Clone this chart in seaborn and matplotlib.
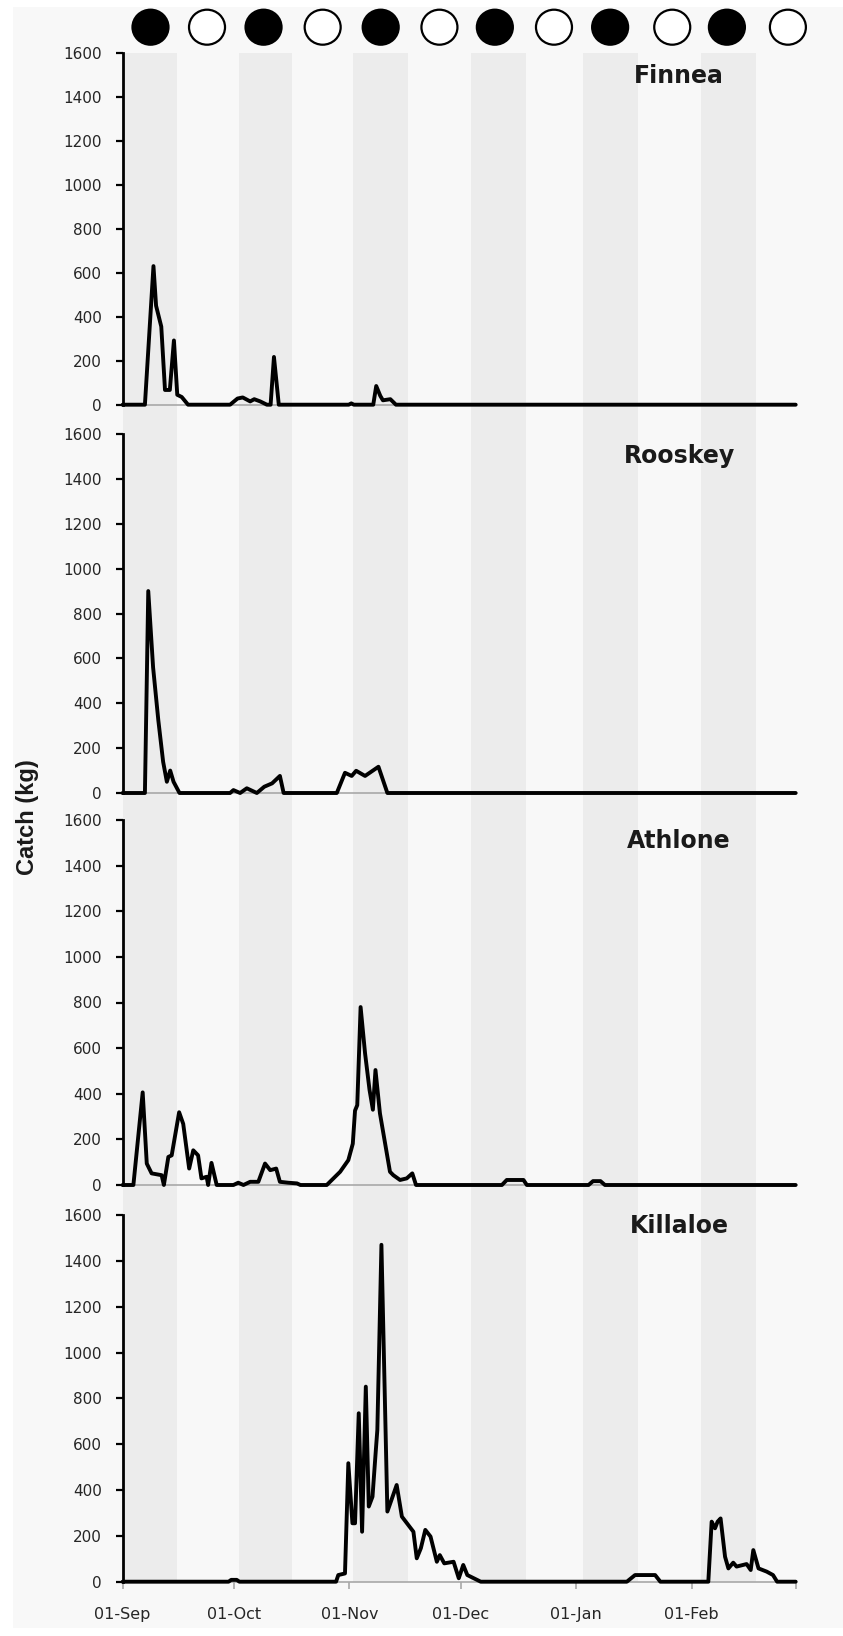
import numpy as np
import pandas as pd
import matplotlib
matplotlib.use("Agg")
import matplotlib.pyplot as plt
import matplotlib.dates as mdates
from matplotlib.patches import Ellipse, Rectangle
import seaborn as sns

# ---------------- data (day offset from 01-Sep, catch in kg) ----------------
START = pd.Timestamp("2013-09-01")
END = pd.Timestamp("2014-03-01")

stations = ["Finnea", "Rooskey", "Athlone", "Killaloe"]

finnea_day = [0, 6.0, 8.3, 9.0, 10.4, 11.4, 12.7, 13.8, 14.7, 15.9, 17.6, 28.9, 30.9, 32.3,
              34.3, 35.4, 37.0, 38.8, 39.8, 40.7, 42.0, 60.8, 61.5, 62.2, 67.4, 68.2, 69.3,
              70.0, 72.0, 73.5, 181]
finnea_kg = [0, 0, 630, 450, 355, 67, 67, 292, 45, 35, 0, 0, 28, 33,
             15, 25, 15, 0, 0, 217, 0, 0, 6, 0, 0, 85, 40,
             20, 25, 0, 0]

rooskey_day = [0, 6.0, 6.9, 8.2, 9.6, 10.9, 11.9, 12.8, 13.7, 15.3, 28.9, 29.8, 31.6, 33.4,
               36.1, 38.1, 40.2, 42.3, 43.3, 57.6, 59.8, 61.6, 62.8, 65.2, 68.8, 71.2, 181]
rooskey_kg = [0, 0, 900, 560, 325, 139, 50, 100, 50, 0, 0, 13, 0, 21,
              0, 28, 43, 76, 0, 0, 90, 76, 99, 76, 117, 0, 0]

athlone_day = [0, 2.9, 5.4, 6.5, 7.8, 10.5, 11.1, 12.3, 13.2, 15.2, 16.3, 17.9, 19.0, 20.3,
               21.2, 22.6, 23.0, 23.9, 25.3, 29.8, 31.1, 32.5, 34.3, 36.5, 38.3, 39.7, 41.3,
               42.3, 44.5, 46.9, 47.8, 54.9, 56.7, 58.5, 60.7, 61.9, 62.5, 63.1, 64.0, 65.2,
               66.4, 67.3, 68.0, 69.2, 71.9, 72.8, 74.6, 76.4, 77.9, 78.9, 102.0, 103.3,
               107.8, 108.7, 125.3, 126.5, 128.5, 129.7, 181]
athlone_kg = [0, 0, 406, 94, 51, 43, 0, 123, 130, 319, 268, 72, 152, 130,
              29, 36, 0, 97, 0, 0, 10, 0, 14, 14, 94, 65, 72,
              14, 10, 7, 0, 0, 29, 58, 109, 181, 326, 350, 780, 577,
              417, 330, 504, 314, 58, 43, 22, 29, 51, 0, 0, 22,
              22, 0, 0, 17, 17, 0, 0]

killaloe_day = [0, 28.5, 29.2, 30.7, 31.4, 57.4, 58.0, 59.8, 60.7, 61.8, 62.5, 63.5, 64.4,
                65.4, 66.2, 67.2, 68.1, 68.5, 69.6, 71.2, 73.7, 75.1, 78.2, 79.1, 80.2,
                81.4, 82.8, 84.5, 85.3, 86.5, 89.0, 90.4, 91.6, 92.7, 96.3, 135.6, 137.8,
                143.2, 144.6, 157.5, 158.4, 159.3, 160.0, 160.8, 162.0, 162.9, 164.2,
                165.1, 167.8, 168.9, 169.6, 171.0, 173.2, 174.9, 176.0, 181]
killaloe_kg = [0, 0, 8, 8, 0, 0, 29, 36, 517, 255, 255, 735, 218,
               851, 328, 371, 575, 662, 1470, 306, 422, 284, 218, 102, 146,
               226, 197, 87, 116, 80, 87, 15, 73, 29, 0, 0, 29,
               29, 0, 0, 262, 233, 262, 276, 109, 58, 83,
               66, 77, 51, 138, 58, 44, 29, 0, 0]

# shaded lunar periods and moon phases (day offsets from 01-Sep)
band_start_day = [0.0, 31.4, 61.9, 93.6, 123.9, 155.5]
band_end_day = [14.7, 45.5, 76.8, 108.5, 138.7, 170.4]
new_moon_day = [7.5, 37.9, 69.4, 100.1, 131.1, 162.5]
full_moon_day = [22.7, 53.8, 85.2, 116.0, 147.8, 178.9]

month_ticks = ["2013-09-01", "2013-10-01", "2013-11-01", "2013-12-01",
               "2014-01-01", "2014-02-01", "2014-03-01"]
month_labels = ["01-Sep", "01-Oct", "01-Nov", "01-Dec", "01-Jan", "01-Feb", ""]
y_ticks = [0, 200, 400, 600, 800, 1000, 1200, 1400, 1600]

series = {
    "Finnea": (finnea_day, finnea_kg),
    "Rooskey": (rooskey_day, rooskey_kg),
    "Athlone": (athlone_day, athlone_kg),
    "Killaloe": (killaloe_day, killaloe_kg),
}

# ---------------- style ----------------
sns.set_theme(style="white")
plt.rcParams["font.family"] = ["DejaVu Sans"]

W, H = 843, 1636
fig = plt.figure(figsize=(W / 100, H / 100), dpi=100, facecolor="white")


def fx(px):
    return px / W


def fy(py):
    return 1 - py / H


BG = "#f8f8f8"
BAND = "#ececec"
fig.add_artist(Rectangle((fx(13), fy(1628)), 1 - fx(13), fy(7) - fy(1628),
                         transform=fig.transFigure, facecolor=BG, edgecolor="none", zorder=0))

x_left, x_right = 122.6, 795.7
# panel layout in pixels: (y of 1600, y of 0, title centre y)
layout = [(52.7, 404.7, 76), (434, 793, 456), (820, 1185, 841), (1215, 1581.7, 1226)]


def to_dates(days):
    return START + pd.to_timedelta(np.asarray(days, dtype=float), unit="D")


# background lunar bands
band_ax = fig.add_axes([fx(x_left), fy(1581.7), fx(x_right - x_left), (1581.7 - 52.7) / H])
band_ax.set_xlim(mdates.date2num(START), mdates.date2num(END))
band_ax.set_ylim(0, 1)
band_ax.axis("off")
for s, e in zip(to_dates(band_start_day), to_dates(band_end_day)):
    band_ax.axvspan(mdates.date2num(s), mdates.date2num(e), color=BAND, lw=0)

# moon symbols
moon_ax = fig.add_axes([fx(x_left), fy(48), fx(x_right - x_left), 40 / H])
moon_ax.set_xlim(mdates.date2num(START), mdates.date2num(END))
moon_ax.set_ylim(0, 1)
moon_ax.axis("off")
mw = 36 / ((x_right - x_left) / 181.0)
mh = 35 / 40
for d in to_dates(new_moon_day):
    moon_ax.add_patch(Ellipse((mdates.date2num(d), 0.52), mw, mh, facecolor="black",
                              edgecolor="black", lw=1.6, clip_on=False))
for d in to_dates(full_moon_day):
    moon_ax.add_patch(Ellipse((mdates.date2num(d), 0.52), mw, mh, facecolor="white",
                              edgecolor="black", lw=1.6, clip_on=False))

tick_dates = [pd.Timestamp(t) for t in month_ticks]

for i, name in enumerate(stations):
    ytop, ybot, ty = layout[i]
    ax = fig.add_axes([fx(x_left), fy(ybot), fx(x_right - x_left), (ybot - ytop) / H])
    ax.set_facecolor("none")
    days, kg = series[name]
    df = pd.DataFrame({"date": to_dates(days), "kg": kg})
    sns.lineplot(data=df, x="date", y="kg", ax=ax, color="black", linewidth=2.8,
                 sort=False, estimator=None, clip_on=False, zorder=3)
    ax.set_xlim(START, END)
    ax.set_ylim(0, 1600)
    ax.set_yticks(y_ticks)
    ax.set_yticklabels([str(v) for v in y_ticks], fontsize=11, color="#262626")
    ax.set_xlabel("")
    ax.set_ylabel("")
    for sp in ["top", "right"]:
        ax.spines[sp].set_visible(False)
    ax.spines["left"].set_color("black")
    ax.spines["left"].set_linewidth(2.0)
    ax.spines["bottom"].set_color("#a8a8a8")
    ax.spines["bottom"].set_linewidth(1.2)
    ax.spines["bottom"].set_zorder(1)
    ax.tick_params(axis="y", direction="out", length=5, width=1.6, color="black",
                   pad=10, left=True)
    ax.set_xticks(tick_dates)
    if i == len(stations) - 1:
        ax.set_xticklabels(month_labels, fontsize=11.5, color="#262626")
        ax.tick_params(axis="x", direction="out", length=5, width=1.2, color="#a8a8a8",
                       pad=13, bottom=True)
    else:
        ax.set_xticklabels([])
        ax.tick_params(axis="x", bottom=False, length=0)
    ax.grid(False)
    fig.text(fx(679), fy(ty), name, ha="center", va="center", fontsize=17,
             fontweight="bold", color="#1a1a1a")

fig.text(fx(27.5), fy(817), "Catch (kg)", rotation=90, ha="center", va="center",
         fontsize=17, fontweight="bold", family=["Liberation Sans", "DejaVu Sans"],
         color="#1a1a1a")

fig.savefig("out.png", dpi=100, facecolor="white")
